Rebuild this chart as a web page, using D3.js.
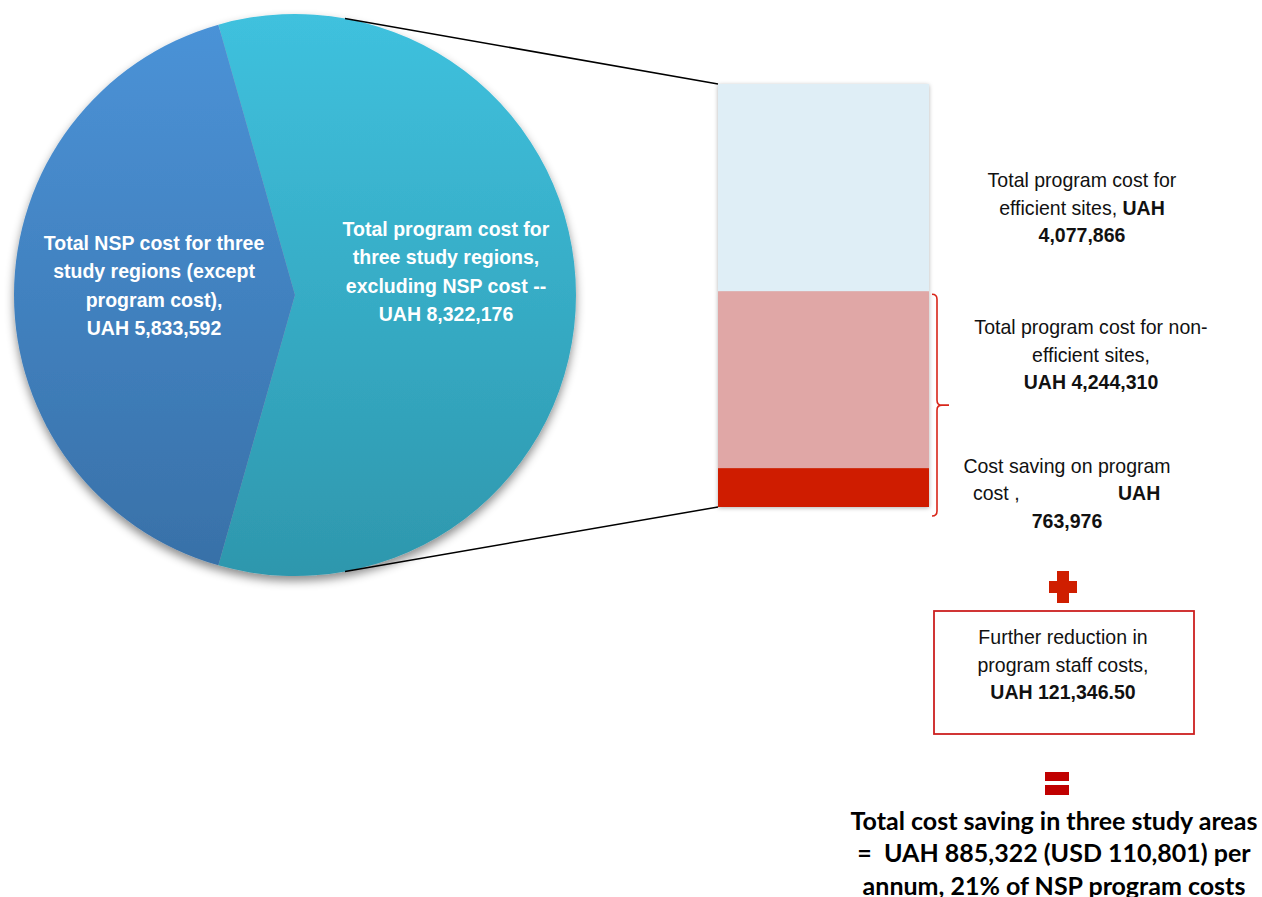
<!DOCTYPE html>
<html>
<head>
<meta charset="utf-8">
<script src="https://cdn.jsdelivr.net/npm/d3@7"></script>
<style>
body { margin: 0; background: #fff; }
svg { display: block; font-family: "Liberation Sans", Arial, sans-serif; }
</style>
</head>
<body>
<svg id="chart" width="1262" height="897"></svg>
<script>
// pie: program cost vs NSP cost
const pieKeys = ['program', 'nsp'];
const pieValues = [8322176, 5833592];
const pieLabels = [
  ['Total program cost for', 'three study regions,', 'excluding NSP cost --', 'UAH 8,322,176'],
  ['Total NSP cost for three', 'study regions (except', 'program cost),', 'UAH 5,833,592']
];

// stacked bar: breakdown of the program cost slice (top to bottom)
const barKeys = ['efficient', 'nonEfficient', 'saving'];
const barValues = [4077866, 3480334, 763976];
const barColors = ['#dfeef6', '#e0a7a6', '#cf1e00'];

const rightLabels = [
  [[{ t: 'Total program cost for' }], [{ t: 'efficient sites, ' }, { t: 'UAH', b: true }], [{ t: '4,077,866', b: true }]],
  [[{ t: 'Total program cost for non-' }], [{ t: 'efficient sites,' }], [{ t: 'UAH 4,244,310', b: true }]],
  [[{ t: 'Cost saving on program' }], [], [{ t: '763,976', b: true }]]
];
const boxLines = [[{ t: 'Further reduction in' }], [{ t: 'program staff costs,' }], [{ t: 'UAH 121,346.50', b: true }]];
const totalLines = [
  'Total cost saving in three study areas',
  '=  UAH 885,322 (USD 110,801) per',
  'annum, 21% of NSP program costs'
];

const SX = 0.93;
const FS = 21;

const svg = d3.select('#chart');
const defs = svg.append('defs');

function grad(id, top, bottom) {
  const g = defs.append('linearGradient')
    .attr('id', id)
    .attr('gradientUnits', 'userSpaceOnUse')
    .attr('x1', 0).attr('x2', 0).attr('y1', -281).attr('y2', 281);
  g.append('stop').attr('offset', '0%').attr('stop-color', top);
  g.append('stop').attr('offset', '100%').attr('stop-color', bottom);
}
grad('g-program', '#3fc1de', '#2e97ad');
grad('g-nsp', '#4b93d8', '#3870a7');

const sh = defs.append('filter').attr('id', 'shadow')
  .attr('x', '-10%').attr('y', '-10%').attr('width', '120%').attr('height', '125%');
sh.append('feDropShadow').attr('dx', 0).attr('dy', 5).attr('stdDeviation', 5)
  .attr('flood-color', '#000').attr('flood-opacity', 0.45);
const sh2 = defs.append('filter').attr('id', 'shadow2')
  .attr('x', '-10%').attr('y', '-10%').attr('width', '120%').attr('height', '120%');
sh2.append('feDropShadow').attr('dx', 0).attr('dy', 1).attr('stdDeviation', 2)
  .attr('flood-color', '#000').attr('flood-opacity', 0.3);

// --- pie
const cx = 295;
const cy = 295;
const R = 281;
const total = d3.sum(pieValues);
const progAngle = 2 * Math.PI * pieValues[0] / total;
const start = Math.PI / 2 - progAngle / 2;

const pie = d3.pie().sort(null).value(d => d)
  .startAngle(start).endAngle(start + 2 * Math.PI);
const arcs = pie(pieValues);
const arc = d3.arc().innerRadius(0).outerRadius(R);

const $pie = svg.append('g').attr('transform', `translate(${cx},${cy})`);
$pie.append('g').attr('filter', 'url(#shadow)')
  .selectAll('path').data(arcs).enter().append('path')
  .attr('d', arc)
  .attr('fill', (d, i) => `url(#g-${pieKeys[i]})`);

const labelArc = d3.arc().innerRadius(146).outerRadius(146);
const labelShift = [[5, -24], [5, -10]];
arcs.forEach((a, i) => {
  const [ax, ay] = labelArc.centroid(a);
  const lx = ax + labelShift[i][0];
  const lines = pieLabels[i];
  const y0 = ay + labelShift[i][1] - (lines.length - 1) * 28.5 / 2;
  lines.forEach((l, j) => {
    $pie.append('text')
      .attr('x', lx).attr('y', y0 + j * 28.5).attr('dy', '0.35em')
      .attr('text-anchor', 'middle')
      .attr('transform', `translate(${lx},0) scale(${SX},1) translate(${-lx},0)`)
      .attr('fill', '#fff').attr('font-weight', 'bold').attr('font-size', FS)
      .text(l);
  });
});

// --- bar
const barX = 718;
const barW = 211;
const y = d3.scaleLinear().domain([0, d3.sum(barValues)]).range([507, 84]);
// stack from the bottom: saving, non-efficient, efficient
const stack = [];
let acc = 0;
[2, 1, 0].forEach(i => { stack[i] = { y0: acc, y1: acc + barValues[i] }; acc += barValues[i]; });

const $bar = svg.append('g').attr('filter', 'url(#shadow2)');
$bar.selectAll('rect').data(stack).enter().append('rect')
  .attr('x', barX).attr('width', barW)
  .attr('y', d => y(d.y1)).attr('height', d => y(d.y0) - y(d.y1))
  .attr('fill', (d, i) => barColors[i]);

// connector lines from pie to bar
const lineAng = Math.asin(50 / R);
[[lineAng, y(d3.sum(barValues))], [Math.PI - lineAng, y(0)]].forEach(([a, by]) => {
  svg.append('line')
    .attr('x1', cx + R * Math.sin(a)).attr('y1', cy - R * Math.cos(a))
    .attr('x2', barX).attr('y2', by)
    .attr('stroke', '#000').attr('stroke-width', 1.5);
});

// red bracket
const bTop = y(stack[1].y1) + 3;
const bBot = y(0) + 9;
const bMid = (bTop + bBot) / 2;
const bx = 937;
svg.append('path')
  .attr('d', `M${bx - 5},${bTop} Q${bx},${bTop} ${bx},${bTop + 5} L${bx},${bMid - 5} Q${bx},${bMid} ${bx + 5},${bMid} L${bx + 12},${bMid}
    M${bx + 5},${bMid} Q${bx},${bMid} ${bx},${bMid + 5} L${bx},${bBot - 5} Q${bx},${bBot} ${bx - 5},${bBot}`)
  .attr('fill', 'none').attr('stroke', '#d8261a').attr('stroke-width', 1.6);

// --- text helper
function textLine(x, yy, segs, anchor) {
  const t = svg.append('text')
    .attr('x', x).attr('y', yy).attr('dy', '0.35em')
    .attr('text-anchor', anchor || 'middle')
    .attr('font-size', FS).attr('fill', '#111')
    .attr('transform', `translate(${x},0) scale(${SX},1) translate(${-x},0)`);
  segs.forEach(s => {
    t.append('tspan').attr('font-weight', s.b ? 'bold' : 'normal').text(s.t);
  });
  return t;
}

const blockPos = [[1082, 180], [1091, 327], [1067, 466]];
rightLabels.forEach((block, i) => {
  const [bx0, by0] = blockPos[i];
  block.forEach((segs, j) => {
    if (segs.length) textLine(bx0, by0 + j * 27.5, segs);
  });
});
textLine(973, 493, [{ t: 'cost ,' }], 'start');
textLine(1118, 493, [{ t: 'UAH', b: true }], 'start');

// plus sign
const plus = svg.append('g').attr('fill', '#cf1e00');
plus.append('rect').attr('x', 1049).attr('y', 581).attr('width', 28).attr('height', 12);
plus.append('rect').attr('x', 1057).attr('y', 571).attr('width', 12).attr('height', 32);

// box
svg.append('rect').attr('x', 934).attr('y', 611).attr('width', 260).attr('height', 123)
  .attr('fill', '#fff').attr('stroke', '#cc2020').attr('stroke-width', 1.8);
boxLines.forEach((segs, j) => textLine(1063, 637 + j * 27.5, segs));

// equals sign
const eq = svg.append('g').attr('fill', '#c00000');
eq.append('rect').attr('x', 1045).attr('y', 772).attr('width', 24).attr('height', 9);
eq.append('rect').attr('x', 1045).attr('y', 785).attr('width', 24).attr('height', 10);

// total text
totalLines.forEach((l, j) => {
  svg.append('text')
    .attr('x', 1054).attr('y', 821 + j * 32.5).attr('dy', '0.35em')
    .attr('text-anchor', 'middle')
    .style('white-space', 'pre')
    .attr('font-family', 'Lato, "Open Sans", sans-serif')
    .attr('font-weight', 'bold').attr('font-size', 25).attr('fill', '#000')
    .text(l);
});
</script>
</body>
</html>
